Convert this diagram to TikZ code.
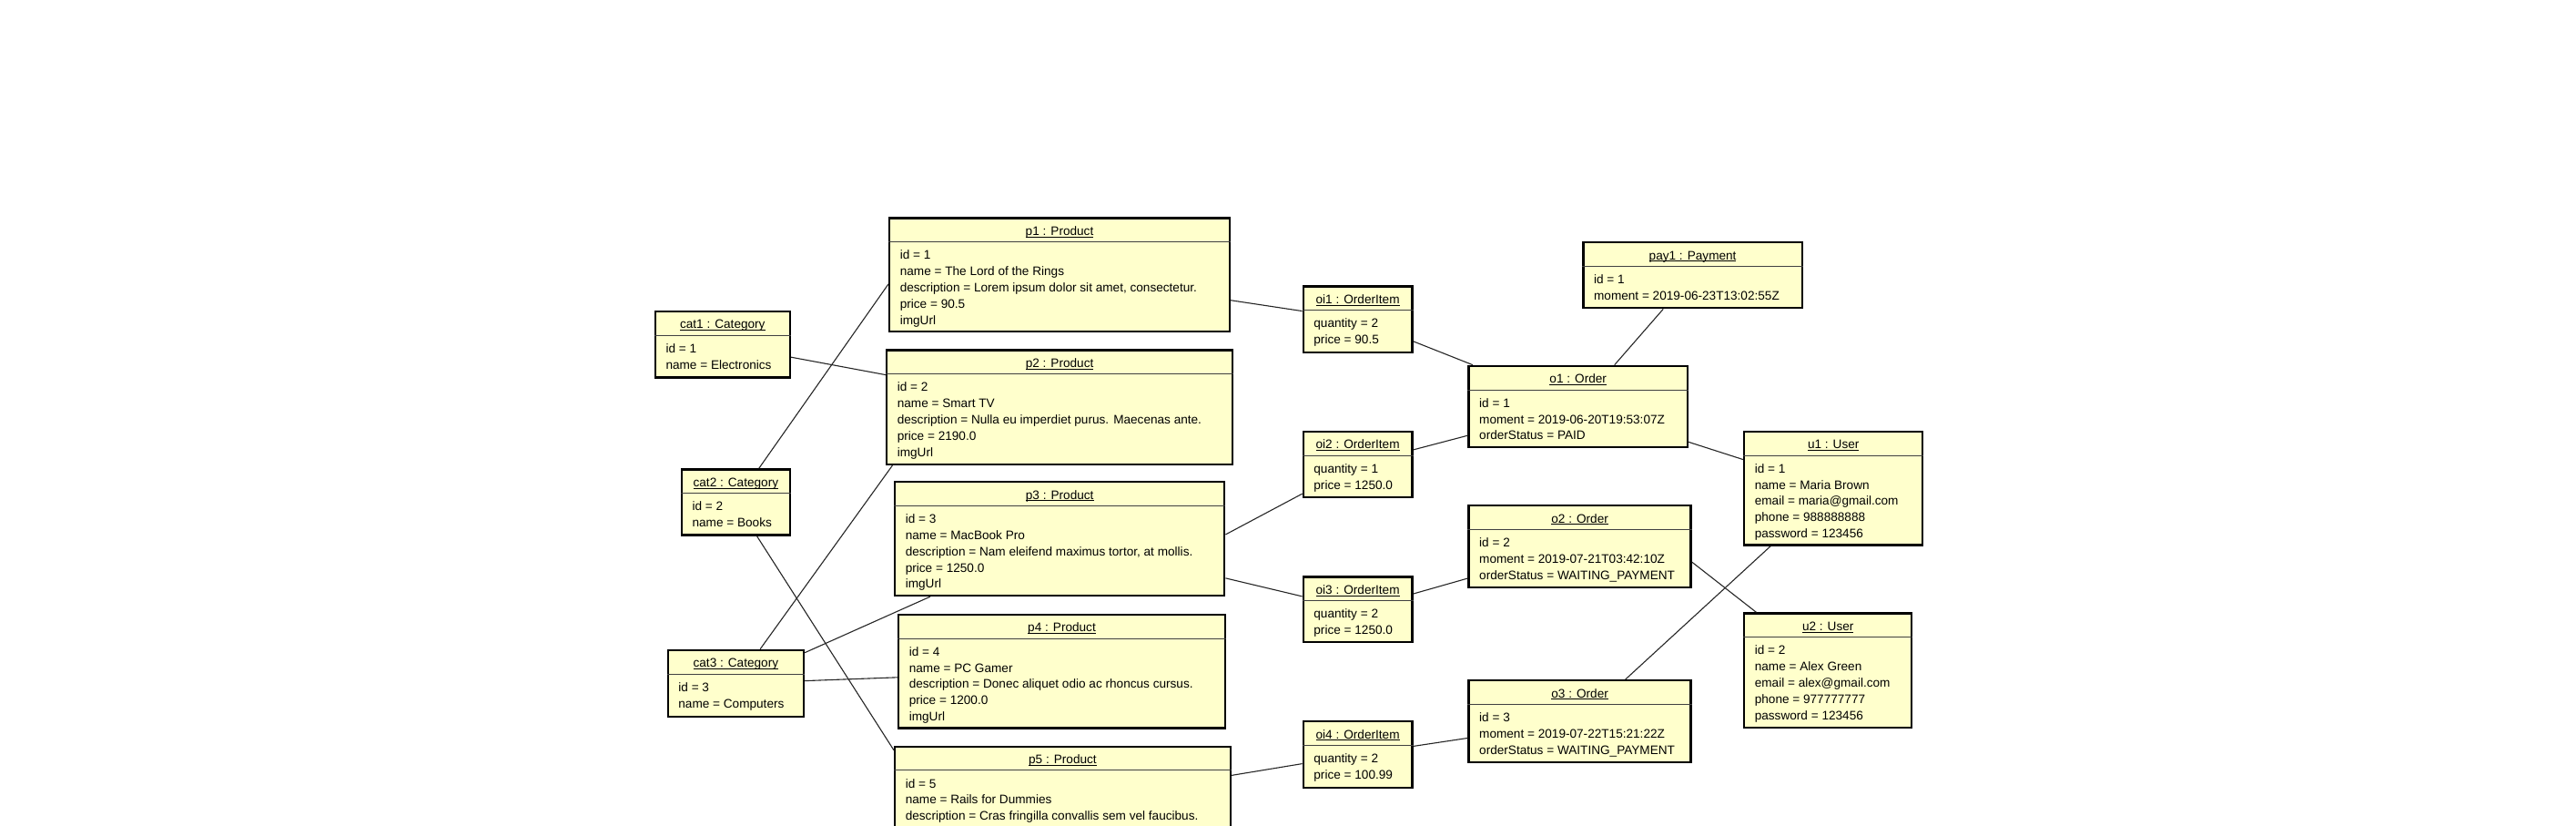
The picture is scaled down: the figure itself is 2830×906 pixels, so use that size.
\documentclass[tikz,border=0pt]{standalone}
\usepackage{fontspec}
\setmainfont{Liberation Sans}
\usetikzlibrary{calc}
\definecolor{objfill}{HTML}{FFFFCC}
\newcommand\myul[1]{\setbox0\hbox{#1}\rlap{\rule[-2.2pt]{\wd0}{0.9pt}}\box0}
\tikzset{
  objbox/.style={rectangle, draw=black, line width=2.4pt, fill=objfill, inner sep=0pt},
  sepline/.style={draw=black!75, line width=1pt},
  titletext/.style={anchor=base, inner sep=0pt, font=\fontsize{13.6pt}{17.8pt}\selectfont},
  bodytext/.style={anchor=base west, inner sep=0pt, font=\fontsize{13.6pt}{17.8pt}\selectfont},
  link/.style={draw=black!85, line width=1.1pt}
}
% name, x, y, w, h, title, body
\newcommand\uobj[7]{%
  \node[objbox, minimum width=#4pt, minimum height=#5pt, anchor=north west] (#1) at (#2pt,-#3pt) {};
  \draw[sepline] ([yshift=-27.3pt]#1.north west) -- ([yshift=-27.3pt]#1.north east);
  \node[titletext] (#1t) at ([yshift=-20pt]#1.north) {\myul{#6}};
  \node[bodytext] (#1b) at ([xshift=12.6pt,yshift=-46.6pt]#1.north west) {\begin{tabular}[t]{@{}l@{}}#7\end{tabular}};
}
\begin{document}
\begin{tikzpicture}
\useasboundingbox (0,0) rectangle (2830pt,-906pt);
\clip (0,0) rectangle (2830pt,-906pt);
\fill[white] (0,0) rectangle (2830pt,-906pt);

\uobj{cat1}{718.7}{340.7}{147.8}{72.6}{cat1 : Category}{id = 1\\name = Electronics}
\uobj{cat2}{747.8}{514.3}{118.7}{72}{cat2 : Category}{id = 2\\name = Books}
\uobj{cat3}{732.6}{712.7}{149.1}{73}{cat3 : Category}{id = 3\\name = Computers}

\uobj{p1}{976}{238.3}{373.6}{124.4}{p1 : Product}{id = 1\\name = The Lord of the Rings\\description = Lorem ipsum dolor sit amet, consectetur.\\price = 90.5\\imgUrl}
\uobj{p2}{973}{383.3}{379.7}{125.4}{p2 : Product}{id = 2\\name = Smart TV\\description = Nulla eu imperdiet purus. Maecenas ante.\\price = 2190.0\\imgUrl}
\uobj{p3}{982}{528}{362}{124.7}{p3 : Product}{id = 3\\name = MacBook Pro\\description = Nam eleifend maximus tortor, at mollis.\\price = 1250.0\\imgUrl}
\uobj{p4}{986}{673.7}{358.6}{124.6}{p4 : Product}{id = 4\\name = PC Gamer\\description = Donec aliquet odio ac rhoncus cursus.\\price = 1200.0\\imgUrl}
\uobj{p5}{982}{818.5}{368.5}{124.5}{p5 : Product}{id = 5\\name = Rails for Dummies\\description = Cras fringilla convallis sem vel faucibus.}

\uobj{oi1}{1430.6}{313.3}{119.6}{72.4}{oi1 : OrderItem}{quantity = 2\\price = 90.5}
\uobj{oi2}{1430.6}{472.7}{119.6}{72}{oi2 : OrderItem}{quantity = 1\\price = 1250.0}
\uobj{oi3}{1430.6}{632.3}{119.6}{71.7}{oi3 : OrderItem}{quantity = 2\\price = 1250.0}
\uobj{oi4}{1430.6}{791}{119.6}{72.7}{oi4 : OrderItem}{quantity = 2\\price = 100.99}

\uobj{pay1}{1738.3}{265}{240.2}{72}{pay1 : Payment}{id = 1\\moment = 2019-06-23T13:02:55Z}
\uobj{o1}{1612.4}{400.7}{240.2}{89.3}{o1 : Order}{id = 1\\moment = 2019-06-20T19:53:07Z\\orderStatus = PAID}
\uobj{o2}{1612.4}{554}{244}{90}{o2 : Order}{id = 2\\moment = 2019-07-21T03:42:10Z\\orderStatus = WAITING\_PAYMENT}
\uobj{o3}{1612.4}{746}{244}{89.7}{o3 : Order}{id = 3\\moment = 2019-07-22T15:21:22Z\\orderStatus = WAITING\_PAYMENT}

\uobj{u1}{1915}{472.7}{196}{124.6}{u1 : User}{id = 1\\name = Maria Brown\\email = maria@gmail.com\\phone = 988888888\\password = 123456}
\uobj{u2}{1915}{672.3}{184}{125.4}{u2 : User}{id = 2\\name = Alex Green\\email = alex@gmail.com\\phone = 977777777\\password = 123456}

\draw[link] (cat1) -- (p2);
\draw[link] ([xshift=25.4pt]cat2.north) -- ([yshift=-10.2pt]p1.west);
\draw[link] ([xshift=7.4pt]p2.south west) -- ([xshift=26.8pt]cat3.north);
\draw[link] (p1) -- (oi1);
\draw[link] ([yshift=4.6pt]p3.east) -- ([yshift=-32.3pt]oi2.west);
\draw[link] (p3) -- (oi3);
\draw[link] (cat3) -- (p3);
\draw[link] (cat3) -- (p4);
\draw[link] ([xshift=23.2pt]cat2.south) -- ([yshift=-5.3pt]p5.north west);
\draw[link] (p5) -- (oi4);
\draw[link] (oi1) -- (o1);
\draw[link] (pay1) -- (o1);
\draw[link] (oi2) -- (o1);
\draw[link] (o1) -- (u1);
\draw[link] (oi3) -- (o2);
\draw[link] ([yshift=-17pt]o2.east) -- ([xshift=-78.8pt]u2.north);
\draw[link] (u1) -- (o3);
\draw[link] (oi4) -- (o3);
\end{tikzpicture}
\end{document}
